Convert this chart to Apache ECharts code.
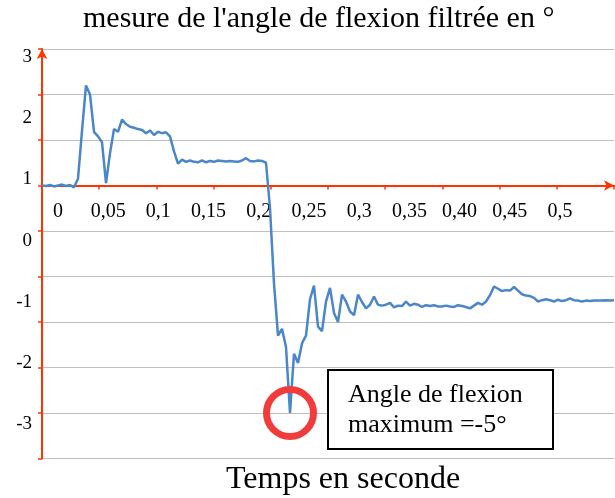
<!DOCTYPE html>
<html>
<head>
<meta charset="utf-8">
<script src="https://cdn.jsdelivr.net/npm/echarts@6/dist/echarts.min.js"></script>
<style>
  html, body { margin: 0; padding: 0; background: #fff; }
  #chart { width: 615px; height: 498px; }
</style>
</head>
<body>
<div id="chart"></div>
<script>
// angle filtré, un échantillon tous les 4 px de l'original
var angle = [
  0.00, -0.01, 0.01, -0.02, 0.00, 0.02, -0.01, 0.01, -0.04, 0.15,
  1.20, 2.20, 2.00, 1.18, 1.08, 0.95, 0.05, 0.71, 1.24, 1.18,
  1.45, 1.35, 1.29, 1.27, 1.24, 1.22, 1.15, 1.21, 1.11, 1.18,
  1.15, 1.17, 1.08, 0.75, 0.48, 0.57, 0.52, 0.55, 0.52, 0.51,
  0.55, 0.51, 0.54, 0.52, 0.55, 0.54, 0.53, 0.54, 0.53, 0.52,
  0.55, 0.60, 0.54, 0.53, 0.55, 0.54, 0.50, -0.50, -2.15, -3.30,
  -3.15, -3.55, -5.00, -3.70, -3.90, -3.47, -3.30, -2.50, -2.20, -3.10,
  -3.20, -2.55, -2.25, -2.80, -3.00, -2.40, -2.55, -2.77, -2.85, -2.40,
  -2.56, -2.70, -2.62, -2.44, -2.62, -2.64, -2.62, -2.58, -2.68, -2.64,
  -2.65, -2.55, -2.64, -2.60, -2.62, -2.67, -2.63, -2.65, -2.63, -2.66,
  -2.66, -2.64, -2.66, -2.67, -2.63, -2.65, -2.67, -2.70, -2.64, -2.58,
  -2.62, -2.55, -2.41, -2.22, -2.27, -2.32, -2.30, -2.31, -2.23, -2.31,
  -2.39, -2.42, -2.43, -2.47, -2.55, -2.52, -2.50, -2.52, -2.55, -2.51,
  -2.54, -2.52, -2.48, -2.52, -2.53, -2.55, -2.53, -2.54, -2.53, -2.53,
  -2.53, -2.52, -2.53, -2.52
];

// libellés affichés (posés tels quels sur le graphique)
var xTickValues = [0, 0.05, 0.1, 0.15, 0.2, 0.25, 0.3, 0.35, 0.4, 0.45, 0.5];
var xTickLabels = ['0', '0,05', '0,1', '0,15', '0,2', '0,25', '0,3', '0,35', '0,40', '0,45', '0,5'];
var yTickValues = [3, 2, 1, 0, -1, -2, -3];

var red = '#ff3300';
var serif = '"Liberation Serif", "Times New Roman", serif';

var myChart = echarts.init(document.getElementById('chart'));

var option = {
  backgroundColor: '#fff',
  animation: false,
  title: [
    {
      text: "mesure de l'angle de flexion filtrée en °",
      left: 78,
      top: -1,
      textStyle: { fontFamily: serif, fontSize: 30, fontWeight: 'normal', color: '#000' }
    },
    {
      text: 'Temps en seconde',
      left: 221,
      bottom: -3,
      textStyle: { fontFamily: serif, fontSize: 32, fontWeight: 'normal', color: '#000' }
    }
  ],
  grid: { left: 42, right: 1, top: 49, bottom: 39.5 },
  xAxis: [
    {
      type: 'value',
      position: 'bottom',
      min: 0,
      max: angle.length - 1,
      interval: (angle.length - 1) / 10,
      axisLine: {
        onZero: true, onZeroAxisIndex: 0,
        symbol: ['none', 'arrow'], symbolSize: [8, 10],
        lineStyle: { color: red, width: 2 }
      },
      axisTick: { show: true, length: 4, lineStyle: { color: red, width: 1.5 } },
      axisLabel: { show: false },
      splitLine: { show: false }
    },
    {
      // axe des libellés, remonté au niveau de la ligne rouge (y = 0)
      type: 'value',
      position: 'bottom',
      offset: -273,
      min: -0.0159,
      max: 0.5538,
      axisLine: { show: false, onZero: false },
      axisTick: { show: false },
      splitLine: { show: false },
      axisLabel: {
        customValues: xTickValues,
        margin: 16,
        fontFamily: serif,
        fontSize: 20,
        color: '#000',
        formatter: function (v) {
          return xTickLabels[Math.round(v / 0.05)];
        }
      }
    }
  ],
  yAxis: [
    {
      type: 'value',
      min: -6,
      max: 3,
      interval: 1,
      axisLine: {
        show: true,
        symbol: ['none', 'arrow'], symbolSize: [8, 10],
        lineStyle: { color: red, width: 2 }
      },
      axisTick: { show: true, length: 4, lineStyle: { color: red, width: 1.5 } },
      axisLabel: { show: false },
      splitLine: { lineStyle: { color: '#c0c0c0', width: 1 } }
    },
    {
      type: 'value',
      position: 'left',
      min: -3.563,
      max: 3.131,
      axisLine: { show: false },
      axisTick: { show: false },
      splitLine: { show: false },
      axisLabel: {
        customValues: yTickValues,
        margin: 10,
        fontFamily: serif,
        fontSize: 19,
        color: '#000'
      }
    }
  ],
  series: [
    {
      type: 'line',
      xAxisIndex: 0,
      yAxisIndex: 0,
      data: angle.map(function (v, i) { return [i, v]; }),
      showSymbol: false,
      lineStyle: { color: '#4a86c8', width: 2.5 },
      markPoint: {
        symbol: 'circle',
        symbolSize: 47,
        itemStyle: { color: 'rgba(0,0,0,0)', borderColor: '#f23c3c', borderWidth: 7 },
        label: { show: false },
        data: [{ type: 'min' }]
      }
    }
  ],
  graphic: [
    {
      type: 'rect',
      shape: { x: 328, y: 370, width: 225, height: 79 },
      style: { fill: '#fff', stroke: '#000', lineWidth: 2 },
      z: 100
    },
    {
      type: 'text',
      x: 348,
      y: 380,
      style: {
        text: 'Angle de flexion\nmaximum =-5°',
        font: '26px ' + serif,
        lineHeight: 30,
        fill: '#000'
      },
      z: 101
    }
  ]
};

myChart.setOption(option);
window.addEventListener('resize', function () {
  myChart.resize();
});
</script>
</body>
</html>
